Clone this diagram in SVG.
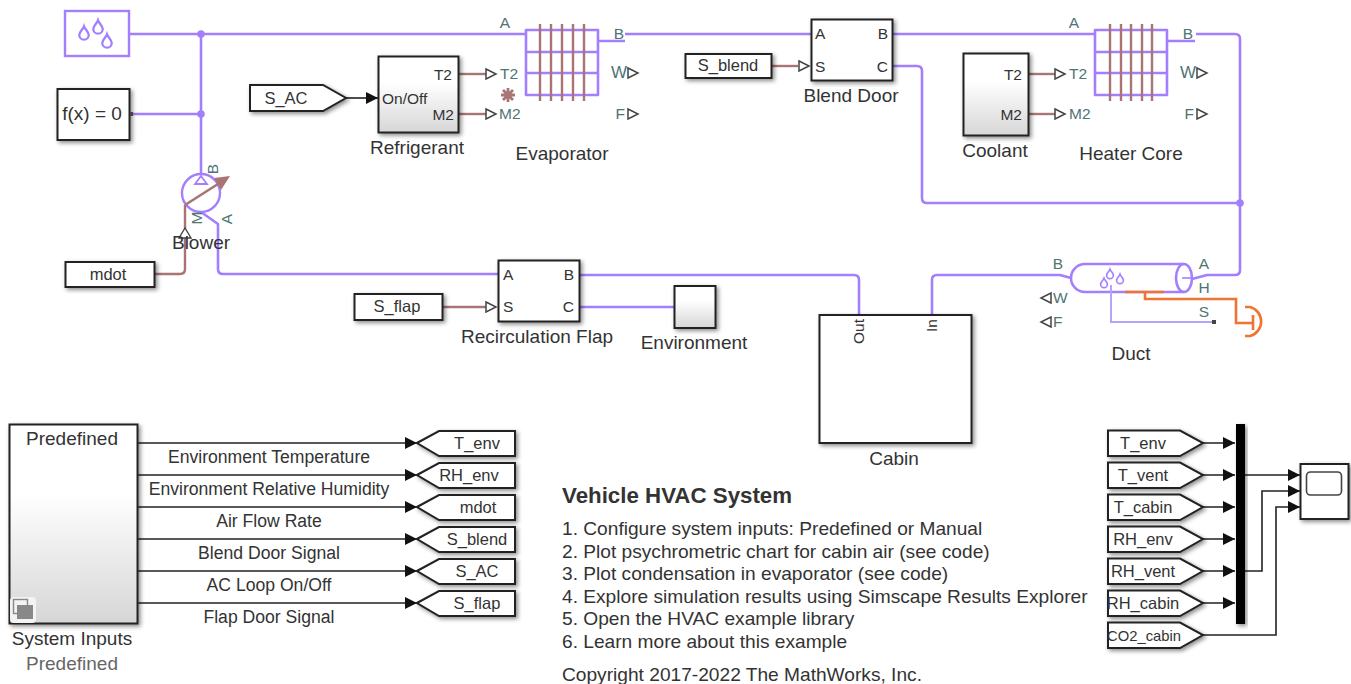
<svg xmlns="http://www.w3.org/2000/svg" width="1351" height="684" viewBox="0 0 1351 684">
<style>
text{font-family:"Liberation Sans",Arial,sans-serif;font-size:19px;fill:#333}
.c{text-anchor:middle}.r{text-anchor:end}
.q{font-size:16.5px}
.l{font-size:17.600px}
.n{font-size:19.150px}
.p{fill:#4f7474;font-size:15.500px}
.k{fill:#333;font-size:15.500px}
.b{fill:#fff;stroke:#222;stroke-width:2;filter:url(#sh)}
.g{fill:url(#gr);stroke:#222;stroke-width:2;filter:url(#sh)}
.w{fill:none;stroke:#a37fff;stroke-width:2.6;stroke-linejoin:round}
.m{fill:none;stroke:#a87474;stroke-width:2.4}
.s{fill:none;stroke:#222;stroke-width:1.6}
.o{fill:none;stroke:#ef7434;stroke-width:2.6}
.t{fill:#fff;stroke:#444;stroke-width:1.5}
.h{fill:#111}
.d{fill:none;stroke:#a37fff;stroke-width:2.4}
</style>
<defs>
<filter id="sh" x="-20%" y="-20%" width="150%" height="150%"><feDropShadow dx="2" dy="2" stdDeviation="2" flood-color="#000" flood-opacity=".45"/></filter>
<linearGradient id="gr" x1="0" y1="0" x2="0" y2="1"><stop offset="0" stop-color="#fff"/><stop offset=".35" stop-color="#fff"/><stop offset="1" stop-color="#d6d6d6"/></linearGradient>
<path id="drop" d="M0,-7 C1,-4 5,-1 5,2 A5,5 0 1 1 -5,2 C-5,-1 -1,-4 0,-7Z"/>
<path id="ptri" d="M0,-5 L10,0 L0,5Z"/>
<path id="ah" d="M-12,-6 L0,0 L-12,6Z"/>
</defs>

<g id="connectors">
<path class="w" d="M129,34H526"/>
<path class="w" d="M201,34V175"/>
<path class="w" d="M133,114H201"/>
<circle cx="201" cy="34" r="3.8" fill="#a37fff"/>
<circle cx="201" cy="114" r="3.8" fill="#a37fff"/>
<path class="w" d="M201,212L218,224V269Q218,274 223,274H498"/>
<path class="m" d="M154,274H180Q185,274 185,269V205"/>
<path class="w" d="M625,34H811"/>
<path class="w" d="M892,34H1095"/>
<path class="w" d="M892,66H917Q922,66 922,71V198Q922,203 927,203H1240"/>
<path class="w" d="M1196,34H1235Q1240,34 1240,39V270Q1240,275 1235,275H1207L1192,279"/>
<circle cx="1240" cy="203" r="3.8" fill="#a37fff"/>
<path class="w" d="M932,315V280Q932,275 937,275H1060L1071,278"/>
<path class="w" d="M579,275H854Q859,275 859,280V315"/>
<path class="w" d="M579,307H674"/>
<path class="m" d="M442,307H486"/>
<use href="#ptri" x="486" y="307" class="t"/>
<path class="m" d="M771,66H798"/>
<use href="#ptri" x="799" y="66" class="t"/>
<path class="m" d="M457,74H486"/>
<use href="#ptri" x="486" y="74" class="t"/>
<path class="m" d="M457,114H486"/>
<use href="#ptri" x="486" y="114" class="t"/>
<path class="m" d="M1027,74H1055"/>
<use href="#ptri" x="1055" y="74" class="t"/>
<path class="m" d="M1027,114H1055"/>
<use href="#ptri" x="1055" y="114" class="t"/>
<path class="s" d="M346,98H378"/>
<use href="#ah" x="378" y="98" class="h"/>
<g id="system-input-lines">
<path class="s" d="M137,443H417M137,475H417M137,507H417M137,539H417M137,571H417M137,603H417"/>
<use href="#ah" x="417" y="443" class="h"/><use href="#ah" x="417" y="475" class="h"/><use href="#ah" x="417" y="507" class="h"/><use href="#ah" x="417" y="539" class="h"/><use href="#ah" x="417" y="571" class="h"/><use href="#ah" x="417" y="603" class="h"/>
</g>
<g id="mux-lines">
<path class="s" d="M1203,443H1235M1203,475H1235M1203,507H1235M1203,539H1235M1203,571H1235M1203,603H1235"/>
<use href="#ah" x="1235" y="443" class="h"/><use href="#ah" x="1235" y="475" class="h"/><use href="#ah" x="1235" y="507" class="h"/><use href="#ah" x="1235" y="539" class="h"/><use href="#ah" x="1235" y="571" class="h"/><use href="#ah" x="1235" y="603" class="h"/>
<path class="s" d="M1245,475H1300M1245,571H1262V491H1300M1203,635H1276V507H1300"/>
<use href="#ah" x="1300" y="475" class="h"/><use href="#ah" x="1300" y="491" class="h"/><use href="#ah" x="1300" y="507" class="h"/>
</g>
</g>

<g id="moist-source">
<rect x="65" y="11" width="64" height="45" fill="#fff" stroke="#a37fff" stroke-width="2.4"/>
<use href="#drop" class="d" transform="translate(84 33) scale(.95)"/>
<use href="#drop" class="d" transform="translate(98 27) scale(.95)"/>
<use href="#drop" class="d" transform="translate(107 41) scale(.95)"/>
</g>

<g id="solver">
<rect class="b" x="57.500" y="89" width="72" height="51"/>
<rect x="130" y="112" width="3" height="4" fill="#444"/>
<text class="c" x="92" y="120">f(x) = 0</text>
</g>

<g id="blower">
<circle cx="201" cy="193" r="19" fill="none" stroke="#a37fff" stroke-width="2.4"/>
<path d="M201,176L207,184H195Z" fill="none" stroke="#a37fff" stroke-width="1.8"/>
<path d="M185,205L218,184" stroke="#a87474" stroke-width="2.6" fill="none"/>
<path d="M230,176L214,178L221,190Z" fill="#a87474"/>
<path d="M185,228L191,238H179Z" fill="#fff" stroke="#444" stroke-width="1.4"/>
<text class="p c" transform="translate(218 169) rotate(-90)">B</text>
<text class="p c" transform="translate(232 219) rotate(-90)">A</text>
<text class="p c" transform="translate(202 218) rotate(-90)">M</text>
<text class="c" x="201" y="249">Blower</text>
</g>

<g id="mdot"><rect class="b" x="65.500" y="262" width="89" height="25"/><text class="c q" x="108" y="280">mdot</text></g>

<g id="s-ac"><path class="b" d="M250,85H323L346,98L323,111H250Z"/><text class="c q" x="286" y="104">S_AC</text></g>

<g id="refrigerant">
<rect class="g" x="378.500" y="56.500" width="80" height="76"/>
<text class="k r" x="452" y="80">T2</text>
<text class="k" x="382" y="104">On/Off</text>
<text class="k r" x="454" y="120">M2</text>
<text class="c" x="417" y="154">Refrigerant</text>
</g>

<g id="evaporator">
<path class="w" d="M526,30H598V95H526ZM526,52H598M526,73H598M598,41H625"/>
<path class="m" d="M540,24V101M551,24V101M562,24V101M573,24V101M584,24V101"/>
<path d="M508,88V102M501,95H515M503,90L513,100M503,100L513,90" stroke="#a87474" stroke-width="2.8" fill="none"/>
<text class="p c" x="505" y="28">A</text>
<text class="p c" x="619" y="39">B</text>
<text class="p" x="500" y="79">T2</text>
<text class="p" x="499" y="119">M2</text>
<text class="p r" x="627" y="78" style="font-size:17px">W</text>
<text class="p r" x="625" y="119">F</text>
<use href="#ptri" x="628" y="73" class="t"/>
<use href="#ptri" x="628" y="114" class="t"/>
<text class="c" x="562" y="160">Evaporator</text>
</g>

<g id="s-blend"><rect class="b" x="685.500" y="54" width="86" height="24"/><text class="c q" x="728" y="71">S_blend</text></g>

<g id="blend-door">
<rect class="b" x="811.500" y="19.500" width="81" height="61"/>
<text class="k" x="815" y="39">A</text>
<text class="k" x="815" y="72">S</text>
<text class="k r" x="888" y="39">B</text>
<text class="k r" x="888" y="72">C</text>
<text class="c" x="851" y="102">Blend Door</text>
</g>

<g id="coolant">
<rect class="g" x="963.500" y="53.500" width="65" height="82"/>
<text class="k r" x="1022" y="80">T2</text>
<text class="k r" x="1022" y="120">M2</text>
<text class="c" x="995" y="157">Coolant</text>
</g>

<g id="heater-core">
<path class="w" d="M1095,30H1167V95H1095ZM1095,52H1167M1095,73H1167M1167,41H1195"/>
<path class="m" d="M1110,24V101M1121,24V101M1131,24V101M1142,24V101M1152,24V101"/>
<text class="p c" x="1074" y="28">A</text>
<text class="p c" x="1188" y="39">B</text>
<text class="p" x="1069" y="79">T2</text>
<text class="p" x="1069" y="119">M2</text>
<text class="p r" x="1196" y="78" style="font-size:17px">W</text>
<text class="p r" x="1194" y="119">F</text>
<use href="#ptri" x="1197" y="73" class="t"/>
<use href="#ptri" x="1197" y="114" class="t"/>
<text class="c" x="1131" y="160">Heater Core</text>
</g>

<g id="duct">
<path class="w" d="M1085,264H1184A8,14 0 0 1 1184,292H1085A14,14 0 0 1 1085,264Z"/>
<path class="w" d="M1184,264A8,14 0 0 0 1184,292"/>
<path class="w" style="stroke-width:1.6" d="M1182,278H1192"/>
<path fill="none" stroke="#b0a4ff" stroke-width="2" d="M1111,285V322H1212"/>
<rect x="1212" y="320" width="4" height="4" fill="#444"/>
<use href="#drop" class="d" transform="translate(1104 283) scale(.68)"/>
<use href="#drop" class="d" transform="translate(1110 274) scale(.68)"/>
<use href="#drop" class="d" transform="translate(1120 279) scale(.68)"/>
<path class="o" d="M1125,292H1164M1145,292V299H1236V323H1252"/>
<path class="o" d="M1253,315V330"/>
<path class="o" d="M1245,307H1250A15,15 0 0 1 1250,336H1245"/>
<text class="p c" x="1058" y="269">B</text>
<text class="p c" x="1204" y="269">A</text>
<text class="p c" x="1204" y="293">H</text>
<text class="p c" x="1204" y="317">S</text>
<text class="p" x="1053" y="303">W</text>
<text class="p" x="1053" y="327">F</text>
<use href="#ptri" transform="translate(1051 298) rotate(180)" class="t"/>
<use href="#ptri" transform="translate(1051 322) rotate(180)" class="t"/>
<text class="c" x="1131" y="360">Duct</text>
</g>

<g id="s-flap"><rect class="b" x="354.500" y="294" width="88" height="26"/><text class="c q" x="397" y="312">S_flap</text></g>

<g id="recirculation-flap">
<rect class="b" x="498.500" y="260.500" width="81" height="61"/>
<text class="k" x="503" y="280">A</text>
<text class="k" x="503" y="312">S</text>
<text class="k r" x="574" y="280">B</text>
<text class="k r" x="574" y="312">C</text>
<text class="c" x="537" y="343">Recirculation Flap</text>
</g>

<g id="environment">
<rect class="g" x="674.500" y="286" width="41" height="42"/>
<text class="c" x="694" y="349">Environment</text>
</g>

<g id="cabin">
<rect class="b" x="819.500" y="315" width="152" height="128"/>
<text class="k" transform="translate(864 319) rotate(-90)" text-anchor="end">Out</text>
<text class="k" transform="translate(937 319) rotate(-90)" text-anchor="end">In</text>
<text class="c" x="894" y="465">Cabin</text>
</g>

<g id="system-inputs">
<rect class="g" x="9.500" y="424.500" width="128" height="199"/>
<text class="c" x="72" y="445">Predefined</text>
<rect x="10" y="597" width="26" height="26" rx="4" fill="#f3f3f3"/>
<rect x="13.500" y="599.500" width="14" height="14" fill="none" stroke="#888" stroke-width="1.4"/>
<rect x="17" y="605" width="16" height="14" fill="#888"/>
<text class="c" x="72" y="645">System Inputs</text>
<text class="c" x="72" y="670" style="fill:#666">Predefined</text>
</g>

<g id="signal-labels">
<text class="c l" x="269" y="463">Environment Temperature</text>
<text class="c l" x="269" y="495">Environment Relative Humidity</text>
<text class="c l" x="269" y="527">Air Flow Rate</text>
<text class="c l" x="269" y="559">Blend Door Signal</text>
<text class="c l" x="269" y="591">AC Loop On/Off</text>
<text class="c l" x="269" y="623">Flap Door Signal</text>
</g>

<g id="goto-t-env"><path class="b" d="M417,443L439,431H515V456H439Z"/><text class="c q" x="477" y="449">T_env</text></g>
<g id="goto-rh-env"><path class="b" d="M417,475L439,463H515V488H439Z"/><text class="c q" x="469" y="481">RH_env</text></g>
<g id="goto-mdot"><path class="b" d="M417,507L439,495H515V520H439Z"/><text class="c q" x="478" y="513">mdot</text></g>
<g id="goto-s-blend"><path class="b" d="M417,539L439,527H515V552H439Z"/><text class="c q" x="477" y="545">S_blend</text></g>
<g id="goto-s-ac"><path class="b" d="M417,571L439,559H515V584H439Z"/><text class="c q" x="477" y="577">S_AC</text></g>
<g id="goto-s-flap"><path class="b" d="M417,603L439,591H515V616H439Z"/><text class="c q" x="477" y="609">S_flap</text></g>

<g id="from-t-env"><path class="b" d="M1108,430.500H1180L1203,443L1180,456H1108Z"/><text class="c q" x="1143" y="449">T_env</text></g>
<g id="from-t-vent"><path class="b" d="M1108,462.500H1180L1203,475L1180,488H1108Z"/><text class="c q" x="1143" y="481">T_vent</text></g>
<g id="from-t-cabin"><path class="b" d="M1108,494.500H1180L1203,507L1180,520H1108Z"/><text class="c q" x="1143" y="513">T_cabin</text></g>
<g id="from-rh-env"><path class="b" d="M1108,526.500H1180L1203,539L1180,552H1108Z"/><text class="c q" x="1143" y="545">RH_env</text></g>
<g id="from-rh-vent"><path class="b" d="M1108,558.500H1180L1203,571L1180,584H1108Z"/><text class="c q" x="1143" y="577">RH_vent</text></g>
<g id="from-rh-cabin"><path class="b" d="M1108,590.500H1180L1203,603L1180,616H1108Z"/><text class="c q" x="1143" y="609">RH_cabin</text></g>
<g id="from-co2-cabin"><path class="b" d="M1108,622.500H1180L1203,635L1180,648H1108Z"/><text class="c" style="font-size:14.800px" x="1144" y="641">CO2_cabin</text></g>

<g id="mux"><rect x="1236" y="424" width="9" height="200" fill="#000" filter="url(#sh)"/></g>

<g id="scope">
<rect class="b" x="1300.500" y="464" width="48" height="55"/>
<rect x="1306.500" y="472" width="35" height="23" rx="4" fill="#fff" stroke="#444" stroke-width="1.6"/>
</g>

<g id="annotation">
<text x="562" y="503" style="font-size:22.300px;font-weight:bold">Vehicle HVAC System</text>
<text class="n" x="562" y="535">1. Configure system inputs: Predefined or Manual</text>
<text class="n" x="562" y="558">2. Plot psychrometric chart for cabin air (see code)</text>
<text class="n" x="562" y="580">3. Plot condensation in evaporator (see code)</text>
<text class="n" x="562" y="603">4. Explore simulation results using Simscape Results Explorer</text>
<text class="n" x="562" y="625">5. Open the HVAC example library</text>
<text class="n" x="562" y="648">6. Learn more about this example</text>
<text class="n" x="562" y="681">Copyright 2017-2022 The MathWorks, Inc.</text>
</g>
</svg>
